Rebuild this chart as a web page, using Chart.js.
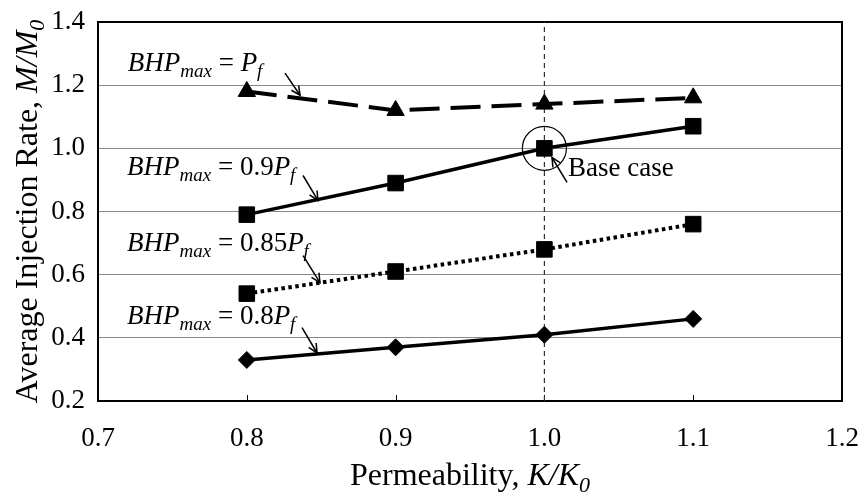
<!DOCTYPE html>
<html><head><meta charset="utf-8">
<script src="https://cdn.jsdelivr.net/npm/chart.js@4/dist/chart.umd.min.js"></script>
<style>html,body{margin:0;padding:0;background:#fff;}canvas{display:block;}</style>
</head><body>
<canvas id="c" width="862" height="493"></canvas>
<script>
// ---- data ----
const permeability = [0.8, 0.9, 1.0, 1.1];
const rateBhpPf   = [1.18, 1.12, 1.14, 1.16];
const rateBhp090  = [0.79, 0.89, 1.00, 1.07];
const rateBhp085  = [0.54, 0.61, 0.68, 0.76];
const rateBhp080  = [0.33, 0.37, 0.41, 0.46];
const baseCaseK = 1.0;
const baseCaseRate = 1.0;
const xRange = [0.7, 1.2];
const yRange = [0.2, 1.4];
const xStep = 0.1, yStep = 0.2;

const FONT = '"Liberation Serif", "Times New Roman", serif';
const FS = 27, SUB = 19;
const TFS = 32, TSUB = 22;

function pts(ys){ return permeability.map((k,i)=>({x:k,y:ys[i]})); }

// annotation runs: [text, italic, subscript]
const annotations = [
  {runs:[['BHP',1,0],['max',1,1],[' = ',0,0],['P',1,0],['f',1,1]], tx:0.720, ty:1.244, a:[0.8257,1.238,0.8358,1.168]},
  {runs:[['BHP',1,0],['max',1,1],[' = 0.9',0,0],['P',1,0],['f',1,1]], tx:0.7195, ty:0.914, a:[0.8378,0.914,0.8478,0.835]},
  {runs:[['BHP',1,0],['max',1,1],[' = 0.85',0,0],['P',1,0],['f',1,1]], tx:0.7195, ty:0.676, a:[0.8378,0.660,0.8492,0.575]},
  {runs:[['BHP',1,0],['max',1,1],[' = 0.8',0,0],['P',1,0],['f',1,1]], tx:0.7195, ty:0.444, a:[0.8371,0.432,0.8472,0.352]},
  {runs:[['Base case',0,0]], tx:1.0159, ty:0.911, a:[1.0152,0.892,1.0051,0.971]}
];

function runsWidth(ctx, runs, fs, sb){
  let w=0;
  for(const [t,it,sub] of runs){
    ctx.font = (it?'italic ':'') + (sub?sb:fs) + 'px ' + FONT;
    w += ctx.measureText(t).width;
  }
  return w;
}
function drawRuns(ctx, runs, x, y, fs, sb){
  let cx=x;
  for(const [t,it,sub] of runs){
    ctx.font = (it?'italic ':'') + (sub?sb:fs) + 'px ' + FONT;
    ctx.fillText(t, cx, y + (sub?Math.round(fs*0.22):0));
    cx += ctx.measureText(t).width;
  }
}
function arrow(ctx, x1,y1,x2,y2){
  ctx.beginPath(); ctx.moveTo(x1,y1); ctx.lineTo(x2,y2); ctx.stroke();
  const ang = Math.atan2(y2-y1,x2-x1), L=10, s=0.45;
  ctx.beginPath();
  ctx.moveTo(x2 - L*Math.cos(ang-s), y2 - L*Math.sin(ang-s));
  ctx.lineTo(x2,y2);
  ctx.lineTo(x2 - L*Math.cos(ang+s), y2 - L*Math.sin(ang+s));
  ctx.stroke();
}

const decor = {
  id:'decor',
  beforeDatasetsDraw(chart){
    const {ctx, chartArea:ca, scales:{x}} = chart;
    ctx.save();
    ctx.strokeStyle='#000'; ctx.lineWidth=1;
    for(let v=xRange[0]+xStep; v<xRange[1]-1e-9; v+=xStep){
      const px=Math.round(x.getPixelForValue(v))+0.5;
      ctx.beginPath(); ctx.moveTo(px,ca.bottom); ctx.lineTo(px,ca.bottom-6); ctx.stroke();
    }
    ctx.lineWidth=2;
    ctx.strokeRect(ca.left, ca.top, ca.right-ca.left, ca.bottom-ca.top);
    ctx.restore();
  },
  afterDatasetsDraw(chart){
    const {ctx, chartArea:ca, scales:{x,y}} = chart;
    ctx.save();
    ctx.fillStyle='#000'; ctx.strokeStyle='#000';
    ctx.textBaseline='alphabetic'; ctx.textAlign='left';
    ctx.lineWidth=1.2;
    ctx.beginPath(); ctx.arc(x.getPixelForValue(baseCaseK), y.getPixelForValue(baseCaseRate), 22, 0, Math.PI*2); ctx.stroke();
    for(const an of annotations){
      drawRuns(ctx, an.runs, x.getPixelForValue(an.tx), y.getPixelForValue(an.ty), FS, SUB);
      ctx.lineWidth=1.5;
      arrow(ctx, x.getPixelForValue(an.a[0]), y.getPixelForValue(an.a[1]), x.getPixelForValue(an.a[2]), y.getPixelForValue(an.a[3]));
    }
    const xt=[['Permeability, ',0,0],['K/K',1,0],['0',1,1]];
    const wx=runsWidth(ctx,xt,TFS,TSUB);
    drawRuns(ctx, xt, (ca.left+ca.right)/2 - wx/2, 485, TFS, TSUB);
    const yt=[['Average Injection Rate, ',0,0],['M/M',1,0],['0',1,1]];
    const wy=runsWidth(ctx,yt,TFS,TSUB);
    ctx.translate(37, (ca.top+ca.bottom)/2);
    ctx.rotate(-Math.PI/2);
    drawRuns(ctx, yt, -wy/2, 0, TFS, TSUB);
    ctx.restore();
  }
};

const common = {showLine:true, borderColor:'#000', backgroundColor:'#000', pointBorderColor:'#000', pointBackgroundColor:'#000', pointBorderWidth:1, fill:false, tension:0};

new Chart(document.getElementById('c'), {
  type:'scatter',
  data:{datasets:[
    Object.assign({label:'BHPmax = Pf', data:pts(rateBhpPf), borderWidth:4, borderDash:[30,11], pointStyle:'triangle', pointRadius:10}, common),
    Object.assign({label:'BHPmax = 0.9Pf', data:pts(rateBhp090), borderWidth:3.5, pointStyle:'rect', pointRadius:11}, common),
    Object.assign({label:'BHPmax = 0.85Pf', data:pts(rateBhp085), borderWidth:4, borderDash:[3.5,3.5], pointStyle:'rect', pointRadius:11}, common),
    Object.assign({label:'BHPmax = 0.8Pf', data:pts(rateBhp080), borderWidth:3.5, pointStyle:'rectRot', pointRadius:8.5}, common),
    Object.assign({}, common, {label:'base', data:[{x:baseCaseK,y:yRange[0]},{x:baseCaseK,y:yRange[1]}], borderWidth:1.2, borderDash:[5,4], borderColor:'#333', pointRadius:0})
  ]},
  options:{
    responsive:false, animation:false, devicePixelRatio:1,
    layout:{padding:{left:0,top:22,right:20,bottom:0}},
    plugins:{legend:{display:false}, tooltip:{enabled:false}},
    scales:{
      x:{type:'linear', min:xRange[0], max:xRange[1],
         ticks:{stepSize:xStep, color:'#000', font:{family:FONT,size:FS}, padding:22, maxRotation:0, callback:v=>v.toFixed(1)},
         grid:{display:false, drawTicks:false}, border:{display:false},
         afterFit(s){ s.height = 92; s.paddingLeft=0; s.paddingRight=0; s.paddingTop=0; s.paddingBottom=0; }},
      y:{type:'linear', min:yRange[0], max:yRange[1],
         ticks:{stepSize:yStep, color:'#000', font:{family:FONT,size:FS}, padding:13, callback:v=>v.toFixed(1)},
         grid:{color:'#888', lineWidth:1, drawTicks:false}, border:{display:false},
         afterFit(s){ s.width = 98; s.paddingLeft=0; s.paddingRight=0; s.paddingTop=0; s.paddingBottom=0; }}
    }
  },
  plugins:[decor]
});
</script>
</body></html>
